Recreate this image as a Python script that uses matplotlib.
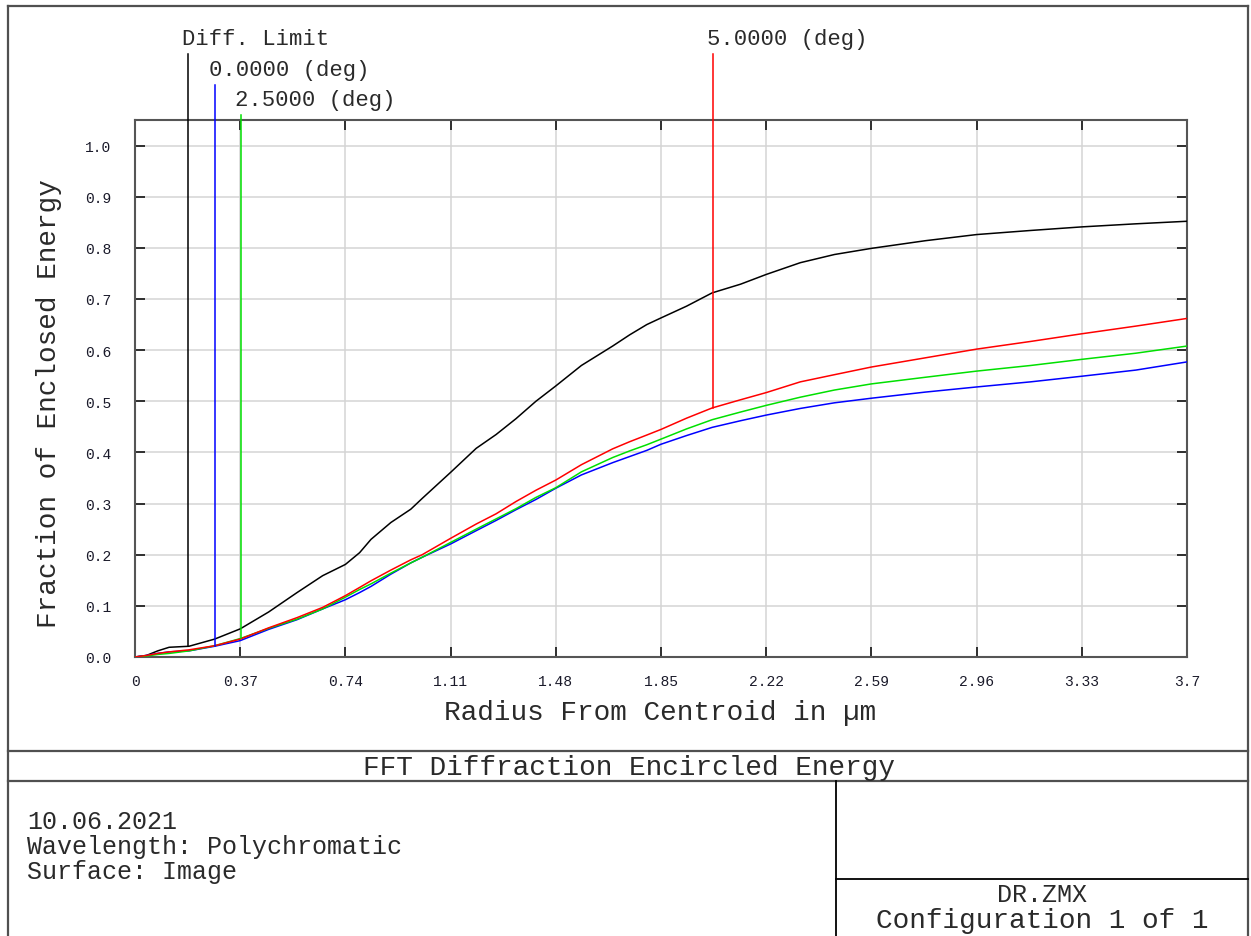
import numpy as np
import matplotlib
matplotlib.use("Agg")
import matplotlib.pyplot as plt
from matplotlib.lines import Line2D

# radius from centroid (µm)
radius = [0.0, 0.04, 0.08, 0.12, 0.19, 0.28, 0.37, 0.47, 0.57, 0.66,
          0.74, 0.79, 0.83, 0.90, 0.97, 1.01, 1.11, 1.20, 1.27, 1.34,
          1.41, 1.48, 1.57, 1.68, 1.74, 1.80, 1.85, 1.94, 2.03, 2.13,
          2.22, 2.34, 2.46, 2.59, 2.78, 2.96, 3.15, 3.33, 3.52, 3.70]

diff_limit = [0.0, 0.003, 0.012, 0.019, 0.021, 0.035, 0.055, 0.088, 0.126, 0.159,
              0.181, 0.204, 0.230, 0.263, 0.289, 0.310, 0.361, 0.408, 0.435, 0.466,
              0.500, 0.530, 0.570, 0.608, 0.630, 0.650, 0.663, 0.686, 0.712, 0.729,
              0.748, 0.771, 0.787, 0.799, 0.814, 0.826, 0.834, 0.841, 0.847, 0.852]
field_0 = [0.0, 0.003, 0.007, 0.010, 0.012, 0.021, 0.032, 0.054, 0.073, 0.094,
           0.112, 0.126, 0.138, 0.162, 0.184, 0.195, 0.221, 0.247, 0.267, 0.288,
           0.308, 0.330, 0.356, 0.380, 0.392, 0.404, 0.416, 0.433, 0.449, 0.462,
           0.473, 0.486, 0.497, 0.506, 0.518, 0.528, 0.538, 0.549, 0.561, 0.577]
field_25 = [0.0, 0.002, 0.005, 0.007, 0.012, 0.022, 0.036, 0.056, 0.074, 0.094,
            0.117, 0.132, 0.143, 0.164, 0.184, 0.195, 0.224, 0.250, 0.270, 0.290,
            0.312, 0.331, 0.362, 0.390, 0.403, 0.415, 0.426, 0.446, 0.464, 0.479,
            0.492, 0.508, 0.522, 0.534, 0.547, 0.559, 0.570, 0.582, 0.594, 0.608]
field_5 = [0.0, 0.003, 0.007, 0.010, 0.014, 0.022, 0.035, 0.057, 0.077, 0.097,
           0.120, 0.136, 0.149, 0.170, 0.190, 0.200, 0.232, 0.260, 0.280, 0.304,
           0.326, 0.346, 0.376, 0.407, 0.421, 0.434, 0.445, 0.467, 0.487, 0.503,
           0.517, 0.538, 0.552, 0.567, 0.585, 0.602, 0.617, 0.632, 0.647, 0.662]

series_labels = ["Diff. Limit", "0.0000 (deg)", "2.5000 (deg)", "5.0000 (deg)"]
series_colors = ["black", "#0000ff", "#00e000", "#ff0000"]
marker_r = [0.186, 0.281, 0.373, 2.033]

x_ticks = [0, 0.37, 0.74, 1.11, 1.48, 1.85, 2.22, 2.59, 2.96, 3.33, 3.7]
x_ticklabels = ["0", "0.37", "0.74", "1.11", "1.48", "1.85", "2.22", "2.59",
                "2.96", "3.33", "3.7"]
y_ticks = [0.0, 0.1, 0.2, 0.3, 0.4, 0.5, 0.6, 0.7, 0.8, 0.9, 1.0]

W, H = 1251, 937
plt.rcParams['font.family'] = ['Liberation Mono', 'DejaVu Sans Mono']
fig = plt.figure(figsize=(W / 100, H / 100), dpi=100)

def fx(px):
    return px / W

def fy(py):
    return 1 - py / H

ax_left, ax_top, ax_right, ax_bot = 135, 121, 1187, 658
ax = fig.add_axes([fx(ax_left), fy(ax_bot), fx(ax_right - ax_left), (ax_bot - ax_top) / H])
ymax = 1.05
ax.set_xlim(0, 3.7)
ax.set_ylim(0, ymax)

curves = [diff_limit, field_0, field_25, field_5]
for vals, col in zip(curves, series_colors):
    ax.plot(radius, vals, color=col, lw=1.1, zorder=3)

# field markers: vertical line from label down to its curve
label_top_px = [55, 86, 116, 55]
for r, vals, col, lab, ptop in zip(marker_r, curves, series_colors, series_labels, label_top_px):
    ybot = np.interp(r, radius, vals)
    ytop = ymax * (ax_bot - ptop) / (ax_bot - ax_top)
    ax.plot([r, r], [ybot, ytop], color=col, lw=1.1, clip_on=False, zorder=4)
    ax.annotate(lab, xy=(r, ytop), xytext=(-4.5, 11.5), textcoords='offset points',
                ha='left', va='center', fontsize=16, color='#2a2a2a',
                annotation_clip=False)

ax.set_xticks(x_ticks)
ax.set_xticklabels(x_ticklabels)
ax.set_yticks(y_ticks)
ax.set_yticklabels([f"{v:.1f}" for v in y_ticks])
ax.grid(True, color='#d4d4d4', lw=1.1, zorder=0)
ax.set_axisbelow(True)
ax.tick_params(direction='in', top=True, right=True, length=7.5, width=1.1,
               color='black', labelsize=10.5, labelcolor='#1a1a2a')
ax.tick_params(axis='x', pad=12)
ax.tick_params(axis='y', pad=17)
for s in ax.spines.values():
    s.set_color('#555555')
    s.set_linewidth(1.5)

txt = '#2a2a2a'
fig.text(fx(660), fy(713), "Radius From Centroid in µm", ha='center', va='center',
         fontsize=20, color=txt)
fig.text(fx(49), fy(404), "Fraction of Enclosed Energy", ha='center', va='center',
         rotation=90, fontsize=20, color=txt)

# frame of the analysis window
frame = dict(color='#505050', lw=1.6)
fig.add_artist(Line2D([fx(8), fx(8)], [fy(7), 0], **frame))
fig.add_artist(Line2D([fx(1248), fx(1248)], [fy(7), 0], **frame))
fig.add_artist(Line2D([fx(8), fx(1248)], [fy(7), fy(7)], **frame))
fig.add_artist(Line2D([fx(8), fx(1248)], [fy(752), fy(752)], **frame))
fig.add_artist(Line2D([fx(8), fx(1248)], [fy(782), fy(782)], **frame))
fig.add_artist(Line2D([fx(836), fx(836)], [fy(782), 0], color='black', lw=1.3))
fig.add_artist(Line2D([fx(836), fx(1248)], [fy(880), fy(880)], color='black', lw=1.3))

fig.text(fx(629), fy(768), "FFT Diffraction Encircled Energy", ha='center', va='center',
         fontsize=20, color=txt)
fig.text(fx(27), fy(822), "10.06.2021", ha='left', va='center', fontsize=18, color=txt)
fig.text(fx(27), fy(847), "Wavelength: Polychromatic", ha='left', va='center',
         fontsize=18, color=txt)
fig.text(fx(27), fy(872), "Surface: Image", ha='left', va='center', fontsize=18,
         color=txt)
fig.text(fx(1042), fy(895), "DR.ZMX", ha='center', va='center', fontsize=18, color=txt)
fig.text(fx(1042), fy(921), "Configuration 1 of 1", ha='center', va='center',
         fontsize=20, color=txt)

fig.savefig("out.png", dpi=100)
